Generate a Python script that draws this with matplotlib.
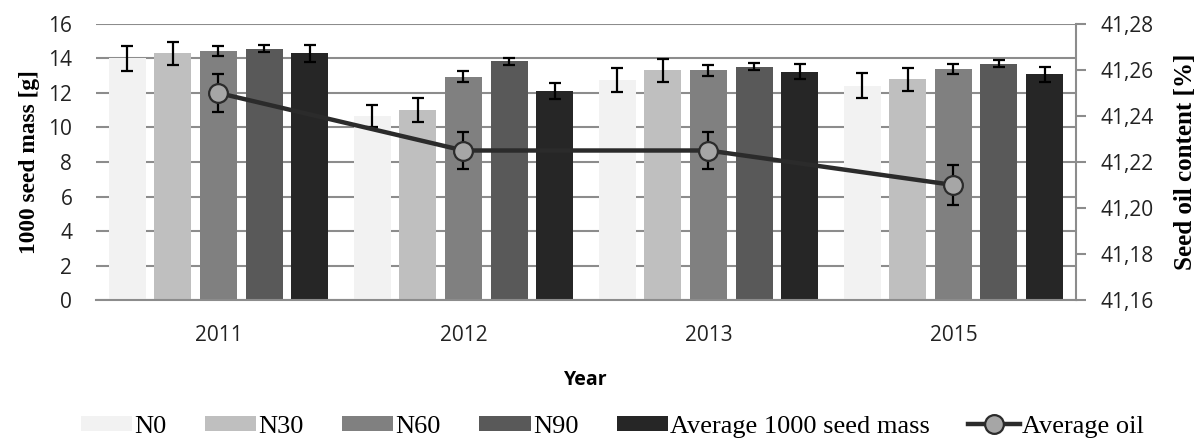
import numpy as np
import matplotlib
matplotlib.use('Agg')
import matplotlib.pyplot as plt
from matplotlib.ticker import FuncFormatter

# data
years = ['2011', '2012', '2013', '2015']
series_names = ['N0', 'N30', 'N60', 'N90', 'Average 1000 seed mass']
n0 = [14.0, 10.67, 12.74, 12.42]
n0_err = [0.70, 0.65, 0.70, 0.73]
n30 = [14.3, 11.01, 13.31, 12.79]
n30_err = [0.67, 0.72, 0.65, 0.67]
n60 = [14.43, 12.95, 13.31, 13.39]
n60_err = [0.30, 0.30, 0.30, 0.30]
n90 = [14.57, 13.83, 13.53, 13.70]
n90_err = [0.20, 0.22, 0.22, 0.22]
avg_mass = [14.3, 12.13, 13.24, 13.08]
avg_mass_err = [0.50, 0.47, 0.45, 0.45]
avg_oil = [41.25, 41.225, 41.225, 41.21]
avg_oil_err = [0.0082, 0.0082, 0.0082, 0.0085]

bar_colors = ['#f2f2f2', '#bfbfbf', '#808080', '#595959', '#262626']
grid_col = '#8c8c8c'
tick_font = 'Open Sans'
serif = 'Liberation Serif'
tick_size = 15

fig = plt.figure(figsize=(11.98, 4.41), dpi=100)
ax = fig.add_axes([0.0801, 0.3197, 0.8180, 0.6259])

x = np.arange(len(years))
pitch = 0.186  # distance between bars of a group
width = 0.151
values = [n0, n30, n60, n90, avg_mass]
errs = [n0_err, n30_err, n60_err, n90_err, avg_mass_err]
handles = []
for i in range(5):
    b = ax.bar(x + (i - 2) * pitch, values[i], width, color=bar_colors[i],
               yerr=errs[i], capsize=4.3,
               error_kw=dict(ecolor='black', elinewidth=1.6, capthick=1.6),
               label=series_names[i], zorder=2)
    handles.append(b)

ax.set_xlim(-0.5, 3.5)
ax.set_ylim(0, 16)
ax.set_yticks(np.arange(0, 17, 2))
ax.set_axisbelow(True)
ax.yaxis.grid(True, color=grid_col, linewidth=1.5, zorder=0)
for s in ['left', 'top', 'right']:
    ax.spines[s].set_visible(False)
ax.spines['bottom'].set_color(grid_col)
ax.spines['bottom'].set_linewidth(1.5)
ax.set_xticks(x)
ax.set_xticklabels(years)
ax.tick_params(axis='y', length=0, pad=17, labelsize=tick_size, labelcolor='#222222')
ax.tick_params(axis='x', length=0, pad=18, labelsize=tick_size, labelcolor='#222222')
for lab in ax.get_xticklabels() + ax.get_yticklabels():
    lab.set_fontfamily(tick_font)
ax.set_ylabel('1000 seed mass [g]', fontfamily=serif, fontweight='bold',
              fontsize=16.8, labelpad=6)
ax.set_xlabel('Year', fontfamily=tick_font, fontweight='bold', fontsize=14,
              labelpad=17)

ax2 = ax.twinx()
ax2.set_ylim(41.16, 41.28)
ax2.set_yticks(np.arange(41.16, 41.2801, 0.02))
ax2.yaxis.set_major_formatter(FuncFormatter(lambda v, p: f'{v:.2f}'.replace('.', ',')))
for s in ['left', 'top', 'bottom']:
    ax2.spines[s].set_visible(False)
ax2.spines['right'].set_color(grid_col)
ax2.spines['right'].set_linewidth(1.5)
ax2.tick_params(axis='y', direction='out', length=7.5, width=1.5, color=grid_col,
                pad=10, labelsize=tick_size, labelcolor='#222222')
for lab in ax2.get_yticklabels():
    lab.set_fontfamily(tick_font)
ax2.set_ylabel('Seed oil content [%]', fontfamily=serif, fontweight='bold',
               fontsize=18, labelpad=15)

ax2.errorbar(x, avg_oil, yerr=avg_oil_err, fmt='none', ecolor='black',
             elinewidth=1.6, capsize=4.3, capthick=1.6, zorder=3)
line, = ax2.plot(x, avg_oil, color='#2b2b2b', linewidth=3.2, marker='o',
                 markersize=13.5, markerfacecolor='#a6a6a6',
                 markeredgecolor='#2b2b2b', markeredgewidth=1.6,
                 label='Average oil', zorder=4)

fig.legend(handles + [line], series_names + ['Average oil'],
           loc='center', bbox_to_anchor=(0.511, 0.032), ncol=6, frameon=False,
           prop={'family': serif, 'size': 19}, handlelength=1.95,
           handletextpad=0.08, columnspacing=1.45, handleheight=0.53,
           borderpad=0.1)

plt.savefig('out.png', dpi=100)
